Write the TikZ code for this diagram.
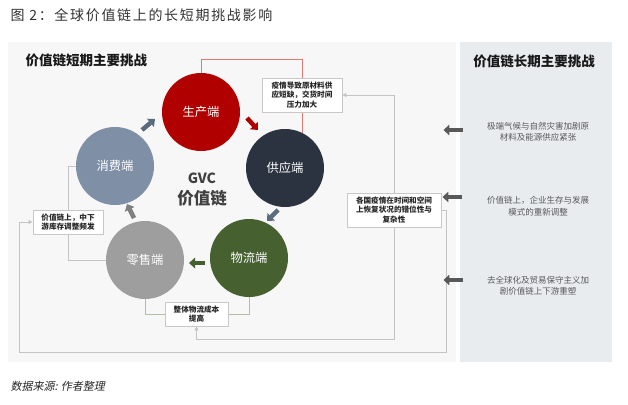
\documentclass[tikz,border=0pt]{standalone}
\usepackage{fontspec}
\setmainfont{Noto Sans CJK SC}
\newfontfamily\cjkit[FakeSlant=0.2]{Noto Sans CJK SC}
\usetikzlibrary{arrows.meta,calc}
\pgfdeclarelayer{bg}\pgfdeclarelayer{ln}\pgfsetlayers{bg,ln,main}
\definecolor{cred}{HTML}{B00000}
\definecolor{cnavy}{HTML}{2B3340}
\definecolor{cgreen}{HTML}{46602F}
\definecolor{cgray}{HTML}{9E9E9E}
\definecolor{cslate}{HTML}{7F8FA6}
\definecolor{aslate}{HTML}{5B6B7F}
\definecolor{agray}{HTML}{808080}
\definecolor{lpanel}{HTML}{F7F7F7}
\definecolor{rpanel}{HTML}{E8ECEF}
\definecolor{lnred}{HTML}{E07878}
\definecolor{lngray}{HTML}{C4C4C4}
\definecolor{lngreen}{HTML}{B3BFA6}
\definecolor{boxline}{HTML}{C8C8C8}
\definecolor{darkarrow}{HTML}{595959}
\tikzset{
  disc/.style={circle,minimum size=78pt,inner sep=0pt,text=white,font=\fontsize{12.3}{14}\selectfont},
  blk/.style={line width=4.5pt,-{Triangle[length=6pt,width=10.5pt]}},
  infobox/.style={draw=boxline,fill=white,line width=0.8pt,align=center,inner sep=0pt,text=black!85,font=\fontsize{7.6}{9.6}\selectfont\bfseries},
  rtext/.style={align=center,text=black!65,font=\fontsize{8.5}{11.5}\selectfont},
  ptitle/.style={font=\fontsize{13.5}{16}\selectfont\bfseries,text=black!90},
  grln/.style={draw=lngray,line width=0.9pt},
  tip/.style={-{Triangle[length=4pt,width=4pt]}}
}
\begin{document}
\begin{tikzpicture}[x=1pt,y=-1pt]
\useasboundingbox (0,0) rectangle (628,404);
\begin{pgfonlayer}{bg}
\fill[white] (0,0) rectangle (628,404);
\fill[lpanel] (8,42) rectangle (456,362);
\fill[rpanel] (460,42) rectangle (612,362);
\end{pgfonlayer}
% titles
\node[anchor=west,text=black!80,font=\fontsize{14}{16}\selectfont\addfontfeatures{LetterSpace=12}] (title) at (7,15) {图 2：全球价值链上的长短期挑战影响};
\node[anchor=west,ptitle] (lt) at (22,60) {价值链短期主要挑战};
\node[ptitle] (rt) at (534,61) {价值链长期主要挑战};
\node[anchor=west,text=black!85,font=\fontsize{11}{13}\selectfont\cjkit] (src) at (7,386) {数据来源: 作者整理};
% circles
\node[disc,fill=cred] (sc) at (201,112) {生产端};
\node[disc,fill=cnavy] (gy) at (285,168) {供应端};
\node[disc,fill=cgreen] (wl) at (249,258) {物流端};
\node[disc,fill=cgray] (ls) at (145,260) {零售端};
\node[disc,fill=cslate] (xf) at (115,166) {消费端};
\node[text=black!75,font=\fontsize{14}{16}\selectfont\bfseries] (gvc) at (202,178) {GVC};
\node[text=black!75,font=\fontsize{16.5}{18}\selectfont\bfseries] (gvcz) at (202,198) {价值链};
% boxes
\node[infobox,minimum width=80pt,minimum height=34pt] (bA) at (302,95) {疫情导致原材料供\\应短缺，交货时间\\压力加大};
\node[infobox,minimum width=94pt,minimum height=34pt] (bB) at (394,210) {各国疫情在时间和空间\\上恢复状况的错位性与\\复杂性};
\node[infobox,minimum width=70pt,minimum height=24pt] (bC) at (68,222) {价值链上，中下\\游库存调整频发};
\node[infobox,minimum width=63pt,minimum height=24pt] (bD) at (196.5,314) {整体物流成本\\提高};
% right texts
\node[rtext] (t1) at (538,132) {极端气候与自然灾害加剧原\\材料及能源供应紧张};
\node[rtext] (t2) at (538,206) {价值链上，企业生存与发展\\模式的重新调整};
\node[rtext] (t3) at (538,286) {去全球化及贸易保守主义加\\剧价值链上下游重塑};
% block arrows between circles
\draw[blk,aslate] ($(xf)+(27,-36)$) -- ($(xf)+(40,-47)$);
\draw[blk,cred] ($(sc)+(46,6)$) -- ($(sc)+(57,18)$);
\draw[blk,aslate] ($(gy)+(-7,42)$) -- ($(gy)+(-18,53)$);
\draw[blk,cgreen] ($(wl)+(-44,5)$) -- ($(wl)+(-60,5)$);
\draw[blk,agray] ($(ls)+(-11,-42)$) -- ($(ls)+(-18,-56)$);
% right panel arrows
\draw[blk,darkarrow] ($(t1.west)+(-20,-2)$) -- ($(t1.west)+(-40,-2)$);
\draw[blk,darkarrow] ($(t2.west)+(-21,-9)$) -- ($(t2.west)+(-41,-9)$);
\draw[blk,darkarrow] ($(t3.west)+(-20,-6)$) -- ($(t3.west)+(-40,-6)$);
% connector lines
\coordinate (rc) at (302,59);
\coordinate (cl) at (68,0);
\coordinate (yb) at (0,339);
\coordinate (k1) at (446,352);
\coordinate (k2) at (19,352);
\begin{pgfonlayer}{ln}
\draw[draw=lnred,line width=0.9pt] (sc.center) |- (rc) -- (rc |- gy.center);
\draw[grln] (xf.center) -| (cl |- ls.center) -- (ls.center);
\draw[draw=lngreen,line width=0.9pt] (ls.center) |- (bD.west);
\draw[draw=lngreen,line width=0.9pt] (bD.east) -| (wl.center);
\draw[grln,tip] (bB.north) |- (bA.east);
\draw[grln,tip] (bB.south) |- (yb -| bD.south) -- (bD.south);
\draw[grln,tip] (bB.east) -| (k1) -- (k2) |- (bC.west);
\end{pgfonlayer}
\end{tikzpicture}
\end{document}
